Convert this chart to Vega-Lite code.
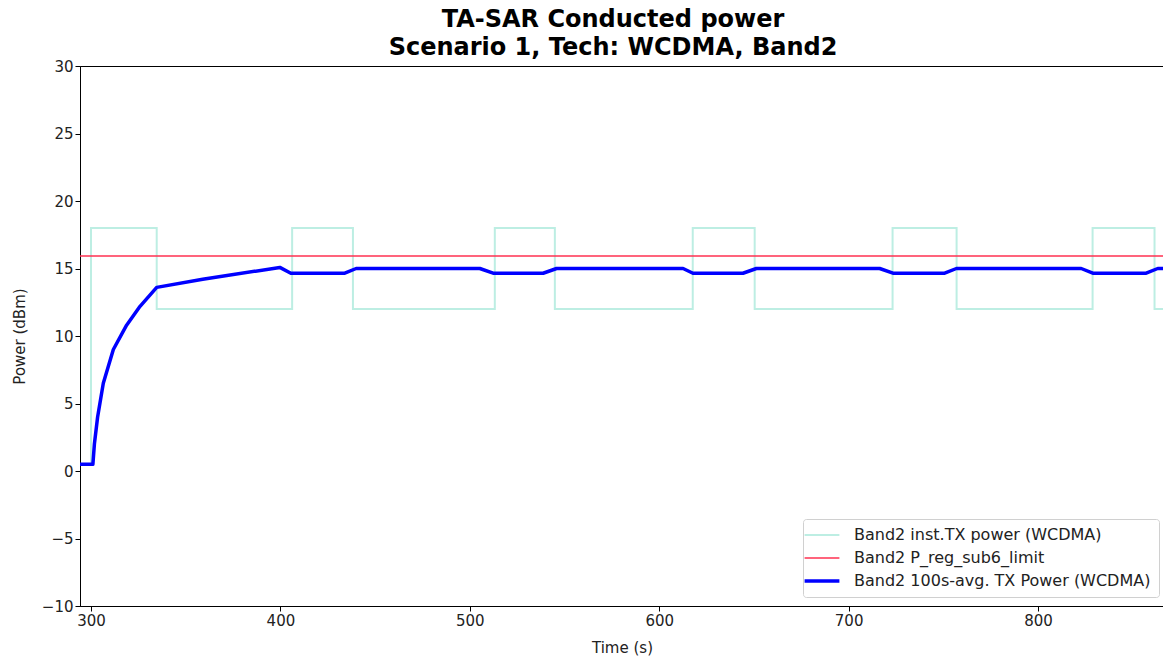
{
  "$schema": "https://vega.github.io/schema/vega-lite/v6.json",
  "autosize": {"type": "none"},
  "padding": {"left": 80, "top": 66, "right": 0, "bottom": 54},
  "width": 1084,
  "height": 540,
  "background": "white",
  "title": {
    "text": ["TA-SAR Conducted power", "Scenario 1, Tech: WCDMA, Band2"],
    "font": "DejaVu Sans",
    "fontSize": 24,
    "fontWeight": "bold",
    "color": "#000",
    "lineHeight": 28,
    "offset": -1,
    "dx": -9,
    "anchor": "middle"
  },
  "config": {
    "view": {"stroke": "#000", "strokeWidth": 1},
    "axis": {
      "labelFont": "DejaVu Sans",
      "labelFontSize": 15,
      "labelColor": "#222",
      "titleFont": "DejaVu Sans",
      "titleFontSize": 15,
      "titleFontWeight": "normal",
      "titleColor": "#222",
      "domainColor": "#000",
      "tickColor": "#000",
      "tickSize": 5,
      "grid": false
    },
    "legend": {
      "labelFont": "DejaVu Sans",
      "labelFontSize": 16,
      "labelColor": "#222",
      "labelLimit": 500
    }
  },
  "layer": [
    {
      "data": {"values": [
        {"t": 294, "p": 0.5, "series": "Band2 inst.TX power (WCDMA)"},
        {"t": 300, "p": 18, "series": "Band2 inst.TX power (WCDMA)"},
        {"t": 334.7, "p": 12, "series": "Band2 inst.TX power (WCDMA)"},
        {"t": 406.2, "p": 18, "series": "Band2 inst.TX power (WCDMA)"},
        {"t": 438.3, "p": 12, "series": "Band2 inst.TX power (WCDMA)"},
        {"t": 513.2, "p": 18, "series": "Band2 inst.TX power (WCDMA)"},
        {"t": 544.9, "p": 12, "series": "Band2 inst.TX power (WCDMA)"},
        {"t": 617.7, "p": 18, "series": "Band2 inst.TX power (WCDMA)"},
        {"t": 650.4, "p": 12, "series": "Band2 inst.TX power (WCDMA)"},
        {"t": 723.2, "p": 18, "series": "Band2 inst.TX power (WCDMA)"},
        {"t": 757, "p": 12, "series": "Band2 inst.TX power (WCDMA)"},
        {"t": 828.8, "p": 18, "series": "Band2 inst.TX power (WCDMA)"},
        {"t": 861.5, "p": 12, "series": "Band2 inst.TX power (WCDMA)"},
        {"t": 875, "p": 12, "series": "Band2 inst.TX power (WCDMA)"}
      ]},
      "mark": {"type": "line", "interpolate": "step-after", "clip": true, "strokeWidth": 2},
      "encoding": {
        "x": {"field": "t", "type": "quantitative", "scale": {"domain": [294.2, 866.5], "nice": false, "zero": false}, "axis": {"title": "Time (s)", "values": [300, 400, 500, 600, 700, 800], "titlePadding": 12}},
        "y": {"field": "p", "type": "quantitative", "scale": {"domain": [-10, 30], "nice": false}, "axis": {"title": "Power (dBm)", "values": [-10, -5, 0, 5, 10, 15, 20, 25, 30], "titlePadding": 14}},
        "color": {"field": "series", "type": "nominal", "sort": null,
          "scale": {"domain": ["Band2 inst.TX power (WCDMA)", "Band2 P_reg_sub6_limit", "Band2 100s-avg. TX Power (WCDMA)"], "range": ["#bdeee3", "#ff3050", "#0000ff"]},
          "legend": {"title": null, "orient": "none", "legendX": 723, "legendY": 453, "symbolType": "M-1.45,0H1.45", "symbolSize": 576, "fillColor": "rgba(255,255,255,0.85)", "strokeColor": "#d0d0d0", "cornerRadius": 3, "padding": 8, "rowPadding": 7, "symbolOffset": 3, "labelOffset": 24,
            "encode": {"symbols": {"update": {"strokeWidth": {"signal": "datum.value === 'Band2 100s-avg. TX Power (WCDMA)' ? 3.5 : datum.value === 'Band2 P_reg_sub6_limit' ? 1.5 : 2"}}}}}}
      }
    },
    {
      "data": {"values": [
        {"t": 290, "p": 15.93, "series": "Band2 P_reg_sub6_limit"},
        {"t": 875, "p": 15.93, "series": "Band2 P_reg_sub6_limit"}
      ]},
      "mark": {"type": "line", "clip": true, "strokeWidth": 1.5},
      "encoding": {
        "x": {"field": "t", "type": "quantitative"},
        "y": {"field": "p", "type": "quantitative"},
        "color": {"field": "series", "type": "nominal", "sort": null}
      }
    },
    {
      "data": {"values": [
        {"t": 294, "p": 0.5, "series": "Band2 100s-avg. TX Power (WCDMA)"},
        {"t": 301, "p": 0.5, "series": "Band2 100s-avg. TX Power (WCDMA)"},
        {"t": 301.8, "p": 2.0, "series": "Band2 100s-avg. TX Power (WCDMA)"},
        {"t": 303.5, "p": 4.0, "series": "Band2 100s-avg. TX Power (WCDMA)"},
        {"t": 306.5, "p": 6.5, "series": "Band2 100s-avg. TX Power (WCDMA)"},
        {"t": 311.8, "p": 9.0, "series": "Band2 100s-avg. TX Power (WCDMA)"},
        {"t": 318.8, "p": 10.8, "series": "Band2 100s-avg. TX Power (WCDMA)"},
        {"t": 325.9, "p": 12.2, "series": "Band2 100s-avg. TX Power (WCDMA)"},
        {"t": 334.7, "p": 13.6, "series": "Band2 100s-avg. TX Power (WCDMA)"},
        {"t": 359, "p": 14.2, "series": "Band2 100s-avg. TX Power (WCDMA)"},
        {"t": 399.7, "p": 15.08, "series": "Band2 100s-avg. TX Power (WCDMA)"},
        {"t": 405.5, "p": 14.65, "series": "Band2 100s-avg. TX Power (WCDMA)"},
        {"t": 434, "p": 14.65, "series": "Band2 100s-avg. TX Power (WCDMA)"},
        {"t": 440, "p": 15.0, "series": "Band2 100s-avg. TX Power (WCDMA)"},
        {"t": 505.3, "p": 15.0, "series": "Band2 100s-avg. TX Power (WCDMA)"},
        {"t": 512.3, "p": 14.65, "series": "Band2 100s-avg. TX Power (WCDMA)"},
        {"t": 538.7, "p": 14.65, "series": "Band2 100s-avg. TX Power (WCDMA)"},
        {"t": 545.8, "p": 15.0, "series": "Band2 100s-avg. TX Power (WCDMA)"},
        {"t": 612.6, "p": 15.0, "series": "Band2 100s-avg. TX Power (WCDMA)"},
        {"t": 617.8, "p": 14.65, "series": "Band2 100s-avg. TX Power (WCDMA)"},
        {"t": 644.2, "p": 14.65, "series": "Band2 100s-avg. TX Power (WCDMA)"},
        {"t": 651.3, "p": 15.0, "series": "Band2 100s-avg. TX Power (WCDMA)"},
        {"t": 716.4, "p": 15.0, "series": "Band2 100s-avg. TX Power (WCDMA)"},
        {"t": 723.4, "p": 14.65, "series": "Band2 100s-avg. TX Power (WCDMA)"},
        {"t": 750.7, "p": 14.65, "series": "Band2 100s-avg. TX Power (WCDMA)"},
        {"t": 756.9, "p": 15.0, "series": "Band2 100s-avg. TX Power (WCDMA)"},
        {"t": 822.8, "p": 15.0, "series": "Band2 100s-avg. TX Power (WCDMA)"},
        {"t": 828.9, "p": 14.65, "series": "Band2 100s-avg. TX Power (WCDMA)"},
        {"t": 857.1, "p": 14.65, "series": "Band2 100s-avg. TX Power (WCDMA)"},
        {"t": 863.2, "p": 15.0, "series": "Band2 100s-avg. TX Power (WCDMA)"},
        {"t": 875, "p": 15.0, "series": "Band2 100s-avg. TX Power (WCDMA)"}
      ]},
      "mark": {"type": "line", "clip": true, "strokeJoin": "round", "strokeWidth": 3.5},
      "encoding": {
        "x": {"field": "t", "type": "quantitative"},
        "y": {"field": "p", "type": "quantitative"},
        "color": {"field": "series", "type": "nominal", "sort": null}
      }
    }
  ]
}
